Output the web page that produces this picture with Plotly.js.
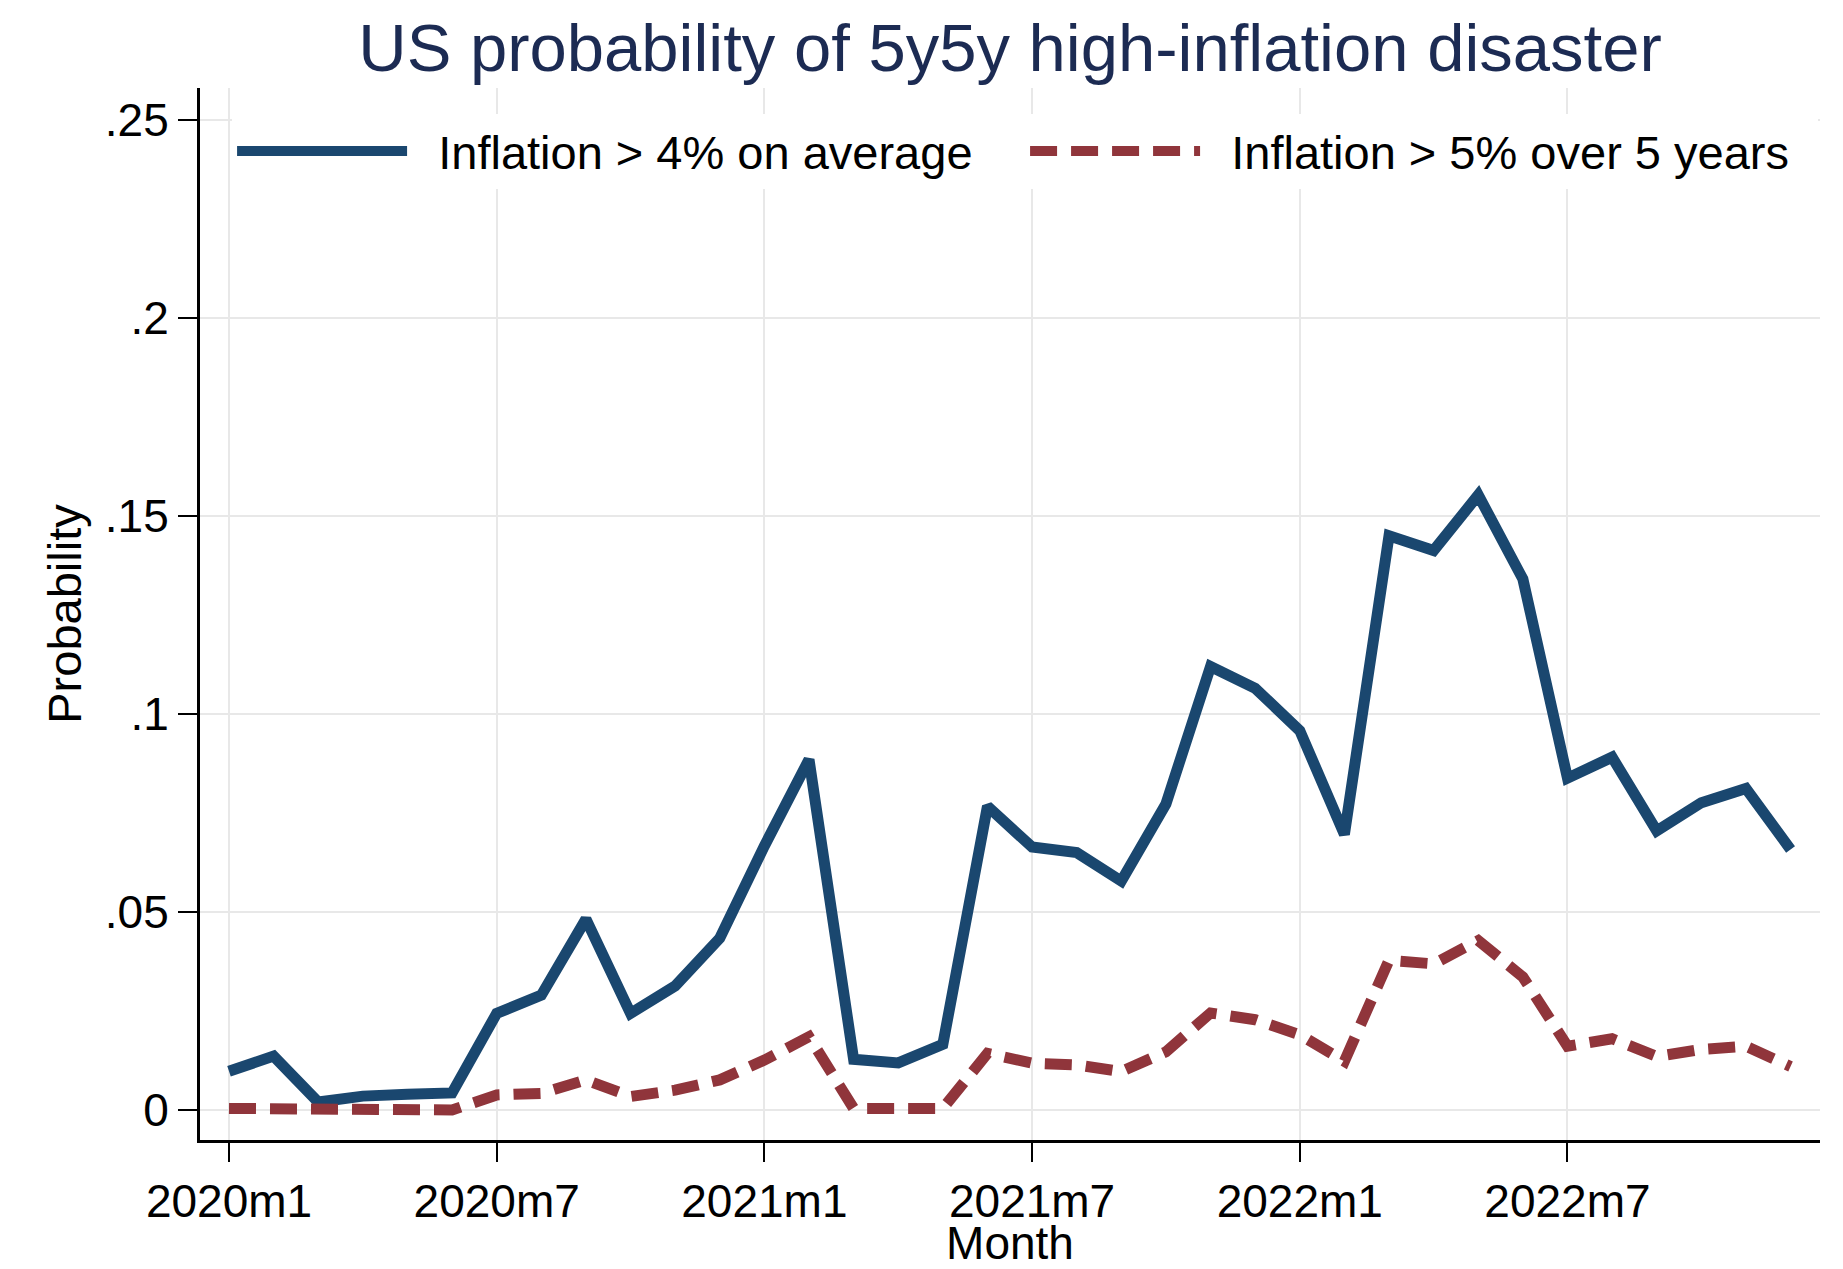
<!DOCTYPE html>
<html>
<head>
<meta charset="utf-8">
<script src="https://cdn.plot.ly/plotly-3.0.1.min.js"></script>
<style>
  html, body { margin: 0; padding: 0; background: #ffffff; }
  #chart { width: 1843px; height: 1269px; }
</style>
</head>
<body>
<div id="chart"></div>
<script>
// Month categories
var months = [
  "2020m1","2020m2","2020m3","2020m4","2020m5","2020m6",
  "2020m7","2020m8","2020m9","2020m10","2020m11","2020m12",
  "2021m1","2021m2","2021m3","2021m4","2021m5","2021m6",
  "2021m7","2021m8","2021m9","2021m10","2021m11","2021m12",
  "2022m1","2022m2","2022m3","2022m4","2022m5","2022m6",
  "2022m7","2022m8","2022m9","2022m10","2022m11","2022m12"
];

// Probability that inflation > 4% on average
var probAbove4Avg = [
  0.0098, 0.0136, 0.0020, 0.0035, 0.0040, 0.0043,
  0.0244, 0.0290, 0.0482, 0.0244, 0.0313, 0.0434,
  0.0667, 0.0885, 0.0128, 0.0119, 0.0166, 0.0767,
  0.0664, 0.0650, 0.0578, 0.0773, 0.1120, 0.1065,
  0.0958, 0.0696, 0.1450, 0.1413, 0.1553, 0.1341,
  0.0838, 0.0891, 0.0705, 0.0776, 0.0812, 0.0658
];

// Probability that inflation > 5% over 5 years
var probAbove5Over5y = [
  0.0004, 0.0004, 0.0000, 0.0000, 0.0000, 0.0000,
  0.0038, 0.0042, 0.0076, 0.0034, 0.0050, 0.0076,
  0.0126, 0.0185, 0.0004, 0.0002, 0.0004, 0.0143,
  0.0118, 0.0114, 0.0097, 0.0147, 0.0245, 0.0228,
  0.0190, 0.0123, 0.0378, 0.0369, 0.0428, 0.0336,
  0.0161, 0.0180, 0.0135, 0.0153, 0.0161, 0.0110
];

var seriesNames = ["Inflation > 4% on average", "Inflation > 5% over 5 years"];

var xTickVals = ["2020m1","2020m7","2021m1","2021m7","2022m1","2022m7"];
var yTickVals = [0, 0.05, 0.1, 0.15, 0.2, 0.25];
var yTickText = ["0", ".05", ".1", ".15", ".2", ".25"];

var FONT = "Liberation Sans, Arial, Helvetica, sans-serif";
var GAP = "\u00a0\u00a0"; // spacing between legend key and label

var traces = [
  {
    x: months, y: probAbove4Avg, name: GAP + seriesNames[0],
    type: "scatter", mode: "lines",
    line: { color: "#1a476f", width: 11 }
  },
  {
    x: months, y: probAbove5Over5y, name: GAP + seriesNames[1],
    type: "scatter", mode: "lines",
    line: { color: "#90353b", width: 11, dash: "27px,14px" }
  }
];

var layout = {
  width: 1843, height: 1269,
  paper_bgcolor: "#ffffff", plot_bgcolor: "#ffffff",
  margin: { l: 200, r: 23, t: 88, b: 129, pad: 0 },
  font: { family: FONT, size: 46, color: "#000000" },
  title: {
    text: "US probability of 5y5y high-inflation disaster",
    font: { family: FONT, size: 67, color: "#1c2b53" },
    xref: "paper", x: 0.5, xanchor: "center",
    yref: "container", y: 0.9626, yanchor: "middle"
  },
  showlegend: true,
  legend: {
    orientation: "h",
    x: 0.0198, xanchor: "left",
    y: 0.9753, yanchor: "top",
    bgcolor: "#ffffff", borderwidth: 0,
    font: { family: FONT, size: 47, color: "#000000" },
    itemwidth: 170,
    entrywidth: 608,
    traceorder: "normal"
  },
  xaxis: {
    type: "category",
    range: [-0.65, 35.66],
    tickmode: "array",
    tickvals: xTickVals,
    ticktext: xTickVals,
    ticks: "outside", ticklen: 19, tickwidth: 2, tickcolor: "#000000",
    showline: true, linecolor: "#000000", linewidth: 3,
    showgrid: true, gridcolor: "#e8e8e8", gridwidth: 2,
    zeroline: false,
    tickfont: { family: FONT, size: 46, color: "#000000" },
    title: { text: "Month", font: { family: FONT, size: 46, color: "#000000" }, standoff: 0 },
    automargin: false
  },
  yaxis: {
    range: [-0.00758, 0.2581],
    tickmode: "array",
    tickvals: yTickVals,
    ticktext: yTickText,
    ticks: "outside", ticklen: 19, tickwidth: 2, tickcolor: "#000000",
    showline: true, linecolor: "#000000", linewidth: 3,
    showgrid: true, gridcolor: "#e8e8e8", gridwidth: 2,
    zeroline: false,
    tickfont: { family: FONT, size: 46, color: "#000000" },
    title: { text: "Probability", font: { family: FONT, size: 47, color: "#000000" }, standoff: 9 },
    automargin: false
  }
};

Plotly.newPlot("chart", traces, layout, { displayModeBar: false, staticPlot: true });
</script>
</body>
</html>
